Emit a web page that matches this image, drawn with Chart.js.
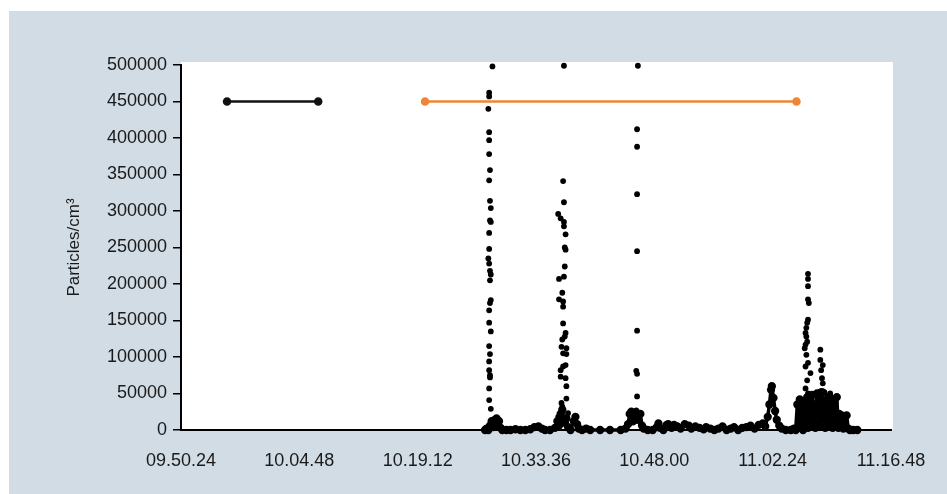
<!DOCTYPE html>
<html>
<head>
<meta charset="utf-8">
<script src="https://cdn.jsdelivr.net/npm/chart.js@4"></script>
<style>
  html, body { margin: 0; padding: 0; background: #ffffff; }
  #panel { position: absolute; left: 9px; top: 11px; width: 938px; height: 483px; background: #d1dce5; }
  canvas { display: block; }
</style>
</head>
<body>
<div id="panel"><canvas id="chart-series" width="938" height="483"></canvas></div>
<script>
// x values are minutes after 09.50.24
const timeLabels = ['09.50.24', '10.04.48', '10.19.12', '10.33.36', '10.48.00', '11.02.24', '11.16.48']

const blackBarT = [5.6, 16.7]
const blackBarV = [450000, 450000]
const orangeBarT = [29.7, 74.9]
const orangeBarV = [450000, 450000]

// separate high readings (spikes)
const spikeT = [
  37.9, 37.5, 37.5, 37.4, 37.5, 37.5, 37.5, 37.6, 37.5, 37.6, 37.7, 37.6, 37.7, 37.5, 37.5, 37.4, 37.5,
  37.6, 37.7, 37.6, 37.7, 37.6, 37.5, 37.5, 37.7, 37.5, 37.6, 37.5, 37.5, 37.6, 37.6, 37.5, 37.5, 37.7,
  46.6, 46.5, 46.6, 45.9, 46.2, 46.6, 46.6, 46.8, 46.7, 46.8, 46.7, 46.6, 46.0, 46.4, 46.0, 46.5, 46.5,
  46.5, 46.8, 46.7, 46.4, 46.3, 46.9, 46.5, 46.9, 46.8, 46.5, 46.2, 46.2, 46.8, 46.9, 46.9, 46.3, 46.4,
  47.1, 45.9,
  55.6, 55.5, 55.5, 55.5, 55.5, 55.5, 55.4, 55.5, 55.5, 55.4, 55.5,
  76.3, 76.3, 76.3, 76.3, 76.4, 76.3, 76.2, 76.1, 76.0, 76.1, 76.2, 76.0, 75.9, 77.8, 76.1, 77.8, 76.3,
  78.1, 76.0, 77.9, 76.6, 78.0, 76.2, 78.1, 76.0, 77.8, 76.3, 79.8, 75.2, 77.7, 79.5, 78.6, 78.3, 79.0
]
const spikeV = [
  498000, 462000, 457000, 440000, 408000, 397000, 378000, 356000, 342000, 314000, 304000, 287000, 285000, 270000, 248000, 235000, 228000,
  218000, 213000, 205000, 178000, 174000, 164000, 147000, 135000, 115000, 104000, 94000, 82000, 75000, 72000, 57000, 41000, 29000,
  499000, 341000, 312000, 296000, 290000, 285000, 279000, 268000, 250000, 247000, 224000, 210000, 207000, 188000, 179000, 176000, 169000,
  146000, 133000, 128000, 124000, 114000, 112000, 105000, 104000, 89000, 87000, 82000, 73000, 71000, 60000, 43000, 37000, 32000,
  23000, 18000,
  499000, 412000, 388000, 323000, 245000, 136000, 81000, 77000, 46000, 27000, 21000,
  214000, 207000, 197000, 179000, 174000, 151000, 147000, 140000, 133000, 128000, 121000, 117000, 112000, 110000, 103000, 96000, 92000,
  89000, 87000, 82000, 78000, 71000, 68000, 64000, 57000, 53000, 50000, 46000, 41000, 37000, 33000, 47000, 52000, 50000
]

// dense low-level readings along the floor
const baseT = [
  37.0, 37.2, 37.4, 37.6, 37.8, 38.0, 38.2, 38.4, 38.5, 38.7, 38.9, 39.1, 39.6, 40.1, 40.7, 41.3, 41.9, 42.5,
  43.0, 43.5, 43.9, 44.3, 44.9, 45.5, 45.8, 46.0, 46.2, 46.4, 46.6, 46.9, 47.1, 47.4, 47.8, 48.0, 48.2, 48.4,
  48.8, 49.3, 49.8, 51.0, 52.2, 53.5, 54.1, 54.4, 54.6, 54.8, 55.0, 55.2, 55.4, 55.6, 55.9, 56.1, 56.3, 56.8,
  57.4, 57.9, 58.1, 58.3, 58.7, 59.1, 59.3, 59.7, 60.0, 60.4, 60.8, 61.3, 61.8, 62.1, 62.6, 63.1, 63.6, 63.9,
  64.4, 64.9, 65.4, 65.9, 66.4, 66.9, 67.3, 67.8, 68.3, 68.8, 69.3, 69.8, 70.3, 70.8, 71.1, 71.4, 71.6, 71.8,
  71.9, 72.1, 72.3, 72.5, 72.8, 73.1, 73.6, 74.2, 74.6, 74.8, 75.0, 75.1, 75.3, 75.4, 75.6, 75.7, 75.9, 76.0,
  76.2, 76.3, 76.5, 76.6, 76.8, 76.9, 77.1, 77.2, 77.4, 77.5, 77.7, 77.8, 78.0, 78.1, 78.3, 78.4, 78.6, 78.7,
  78.9, 79.0, 79.2, 79.3, 79.5, 79.6, 79.8, 80.0, 80.1, 80.3, 80.4, 80.6, 80.7, 80.9, 81.0, 81.2, 81.4, 81.8, 82.3
]
const baseV = [
  0, 2000, 0, 6000, 12000, 4000, 14000, 16000, 6000, 12000, 3000, 0, 0, 0, 1000, 0, 0, 1000,
  4000, 5000, 2000, 0, 0, 3000, 12000, 6000, 22000, 28000, 10000, 16000, 4000, 0, 12000, 18000, 8000, 2000,
  0, 2000, 0, 0, 0, 0, 2000, 8000, 22000, 25000, 12000, 20000, 24000, 14000, 22000, 6000, 2000, 0,
  0, 4000, 9000, 3000, 0, 7000, 8000, 3000, 7000, 5000, 2000, 8000, 6000, 2000, 5000, 3000, 1000, 4000,
  2000, 0, 2000, 5000, 0, 2000, 4000, 0, 3000, 4000, 6000, 2000, 7000, 9000, 5000, 18000, 35000, 55000,
  60000, 44000, 26000, 14000, 6000, 2000, 0, 0, 2000, 0, 35000, 3000, 42000, 8000, 30000, 0, 38000, 10000,
  45000, 3000, 40000, 8000, 48000, 15000, 35000, 3000, 50000, 10000, 45000, 6000, 52000, 15000, 40000, 3000, 35000, 6000,
  45000, 10000, 42000, 3000, 38000, 6000, 45000, 3000, 22000, 5000, 20000, 2000, 18000, 3000, 20000, 2000, 0, 0, 0
]

const toPoints = (xs, ys) => xs.map((x, i) => ({ x: x, y: ys[i] }))

const plotBackground = {
  id: 'plotBackground',
  beforeDraw(chart) {
    const { ctx, chartArea } = chart
    ctx.save()
    ctx.fillStyle = '#ffffff'
    ctx.fillRect(chartArea.left, chartArea.top - 3, chartArea.right - chartArea.left + 2, chartArea.bottom - chartArea.top + 3)
    ctx.restore()
  }
}

const chartSeries = document.getElementById('chart-series')
const tickFont = { family: '"Liberation Sans", Arial, sans-serif', size: 18 }

new Chart(chartSeries, {
  type: 'scatter',
  data: {
    datasets: [
      {
        label: 'orange',
        data: toPoints(orangeBarT, orangeBarV),
        showLine: true,
        borderColor: '#ef8536',
        backgroundColor: '#ef8536',
        borderWidth: 2.5,
        pointRadius: 3,
        clip: false
      },
      {
        label: 'black',
        data: toPoints(blackBarT, blackBarV),
        showLine: true,
        borderColor: '#111111',
        backgroundColor: '#111111',
        borderWidth: 2.5,
        pointRadius: 3,
        clip: false
      },
      {
        label: 'spikes',
        data: toPoints(spikeT, spikeV),
        backgroundColor: '#000000',
        borderWidth: 0,
        pointRadius: 2.9,
        clip: false
      },
      {
        label: 'floor',
        data: toPoints(baseT, baseV),
        showLine: true,
        borderColor: '#000000',
        backgroundColor: '#000000',
        borderWidth: 3.5,
        borderJoinStyle: 'round',
        borderCapStyle: 'round',
        pointRadius: 2.4,
        clip: false
      }
    ]
  },
  options: {
    responsive: false,
    animation: false,
    layout: { padding: { top: 54, right: 56, left: 0, bottom: 0 } },
    plugins: {
      legend: { display: false },
      tooltip: { enabled: false }
    },
    scales: {
      x: {
        type: 'linear',
        min: 0,
        max: 86.4,
        afterFit: (scale) => { scale.height = 64 },
        afterBuildTicks: (scale) => {
          scale.ticks = timeLabels.map((l, i) => ({ value: i * 14.4 }))
        },
        ticks: {
          font: tickFont,
          color: '#1a1a1a',
          padding: 20,
          maxRotation: 0,
          autoSkip: false,
          callback: (v, i) => timeLabels[i]
        },
        grid: { display: false, drawTicks: false },
        border: { display: true, color: '#000000', width: 2 }
      },
      y: {
        min: 0,
        max: 500000,
        afterFit: (scale) => { scale.width = 172 },
        ticks: {
          stepSize: 50000,
          font: tickFont,
          color: '#1a1a1a',
          padding: 6,
          callback: (v) => String(v)
        },
        grid: { drawOnChartArea: false, drawTicks: true, tickLength: 8, color: '#000000', lineWidth: 1.5 },
        border: { display: true, color: '#000000', width: 2 },
        title: {
          display: true,
          text: 'Particles/cm³',
          font: { family: '"Liberation Sans", Arial, sans-serif', size: 17 },
          color: '#1a1a1a',
          padding: { top: 55, bottom: 0 }
        }
      }
    }
  },
  plugins: [plotBackground]
})
</script>
</body>
</html>
